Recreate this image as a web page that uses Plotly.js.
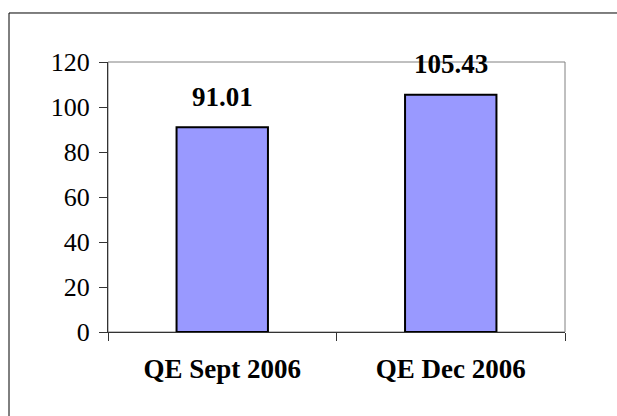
<!DOCTYPE html>
<html><head><meta charset="utf-8">
<script src="https://cdn.plot.ly/plotly-3.0.1.min.js"></script>
<style>html,body{margin:0;padding:0;background:#fff}#c{width:617px;height:416px}</style>
</head><body><div id="c"></div>
<script>
const categories = ["QE Sept 2006", "QE Dec 2006"];
const values = [91.01, 105.43];
const yTicks = [0, 20, 40, 60, 80, 100, 120];

const font = "Liberation Serif, Times New Roman, serif";
const trace = {
  type: "bar", x: categories, y: values, width: 0.4,
  marker: {color: "#9999FF", line: {color: "#000", width: 2}},
  hoverinfo: "none"
};
const annotations = categories.map((c, i) => ({
  x: c, y: values[i], xref: "x", yref: "y", text: "<b>" + values[i].toFixed(2) + "</b>",
  showarrow: false, yanchor: "middle", yshift: i === 0 ? 30 : 31,
  font: {family: font, size: 27, color: "#000"}
}));
const layout = {
  width: 617, height: 416,
  margin: {l: 108, r: 52, t: 62, b: 84, pad: 0},
  paper_bgcolor: "#fff", plot_bgcolor: "#fff",
  showlegend: false,
  font: {family: font, size: 26, color: "#000"},
  xaxis: {type: "category", showgrid: false, zeroline: false, showline: true, linecolor: "#333", linewidth: 1,
    ticks: "outside", tickson: "boundaries", ticklen: 8, tickcolor: "#333", tickwidth: 1,
    ticklabelstandoff: 13,
    tickfont: {family: font, size: 27, color: "#000", weight: "bold"}, fixedrange: true},
  yaxis: {range: [0, 120], tickvals: yTicks, ticktext: yTicks.map(String), showgrid: false, zeroline: false,
    showline: true, linecolor: "#333", linewidth: 1, ticks: "outside", ticklen: 8, tickcolor: "#333", tickwidth: 1,
    ticklabelstandoff: 4,
    tickfont: {family: font, size: 26, color: "#000"}, fixedrange: true},
  annotations: annotations,
  shapes: [
    {type: "rect", xref: "paper", yref: "paper", x0: 0, x1: 1, y0: 0, y1: 1, line: {color: "#808080", width: 1}, layer: "below"},
    {type: "rect", xref: "paper", yref: "paper", x0: -0.2166, x1: 1.4, y0: -0.5, y1: 1.1815, line: {color: "#000", width: 1}, layer: "below"}
  ]
};
Plotly.newPlot("c", [trace], layout, {staticPlot: true, displayModeBar: false});
</script></body></html>
